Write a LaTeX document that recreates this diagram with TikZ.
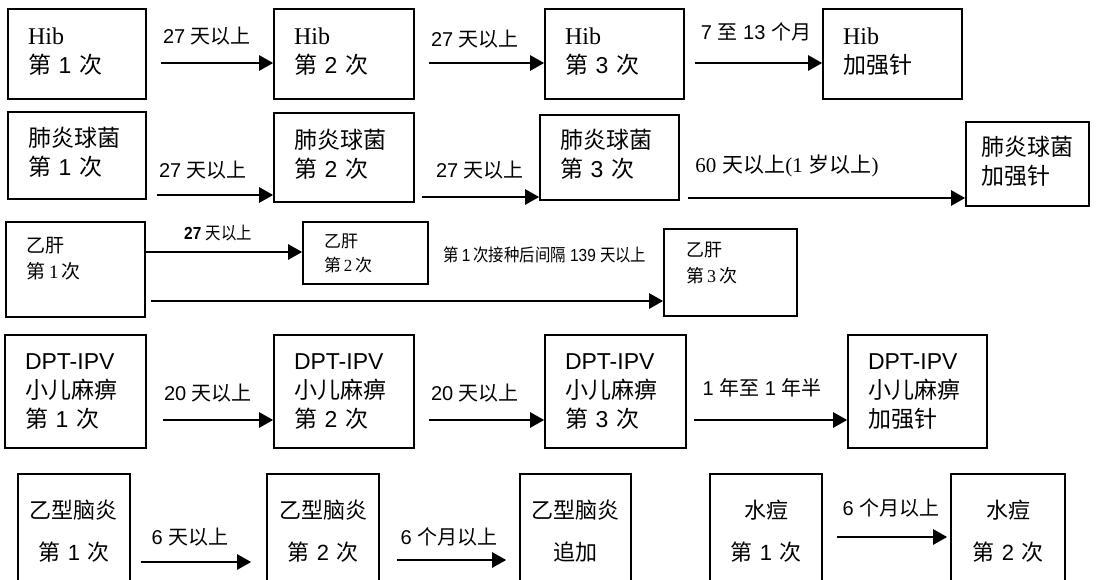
\documentclass[tikz,border=0pt]{standalone}
\usepackage{fontspec}
\setmainfont{Liberation Sans}
\newfontfamily\cjkfont{Noto Sans CJK SC}
\newfontfamily\cjkcond[FakeStretch=0.88]{Noto Sans CJK SC}
\newfontfamily\serifrm{Liberation Serif}
\newfontfamily\sanscond[FakeStretch=0.88]{Liberation Sans}
\newcommand{\zh}[1]{{\cjkfont #1}}
\newcommand{\zc}[1]{{\cjkcond #1}}
\usetikzlibrary{arrows.meta,calc}

\begin{document}
\begin{tikzpicture}[x=1pt, y=-1pt,
    box/.style={rectangle, draw, line width=1.6pt, inner xsep=20pt, align=left, font=\fontsize{23}{29}\selectfont},
    smallbox/.style={rectangle, draw, line width=1.6pt, inner xsep=21pt, align=left, font=\fontsize{19}{26}\selectfont},
    cbox/.style={rectangle, draw, line width=1.6pt, inner xsep=4pt, align=center, minimum height=114pt, font=\fontsize{22}{42}\selectfont},
    lbl/.style={inner sep=0pt, font=\fontsize{20}{22}\selectfont},
    slbl/.style={inner sep=0pt, font=\fontsize{17.5}{20}\selectfont\sanscond},
    arr/.style={line width=2.4pt, -{Triangle[length=14pt,width=15pt]}}
]
\useasboundingbox (0,0) rectangle (1096,579);
\clip (0,0) rectangle (1096,579);

% Hib
\node[box, text width=98pt, minimum height=90pt, text depth=35pt] (hib1) at (77,54) {{\serifrm\fontsize{24}{29}\selectfont Hib}\\\zh{第} 1 \zh{次}};
\node[box, text width=100pt, minimum height=90pt, text depth=35pt] (hib2) at (344,54) {{\serifrm\fontsize{24}{29}\selectfont Hib}\\\zh{第} 2 \zh{次}};
\node[box, text width=99pt, minimum height=90pt, text depth=35pt] (hib3) at (614.5,54) {{\serifrm\fontsize{24}{29}\selectfont Hib}\\\zh{第} 3 \zh{次}};
\node[box, text width=99pt, minimum height=90pt, text depth=35pt] (hib4) at (892.5,54) {{\serifrm\fontsize{24}{29}\selectfont Hib}\\\zh{加强针}};

\node[lbl] (hibl1) at (207,36) {27 \zh{天以上}};
\node[lbl] (hibl2) at (475,39) {27 \zh{天以上}};
\node[lbl] (hibl3) at (756,32) {7 \zh{至} 13 \zh{个月}};

\draw[arr] ($(hib1.east)+(14,9)$) -- ($(hib2.west)+(0,9)$);
\draw[arr] ($(hib2.east)+(14,9)$) -- ($(hib3.west)+(0,9)$);
\draw[arr] ($(hib3.east)+(10,9)$) -- ($(hib4.west)+(0,9)$);

% Pneumocoque
\node[box, text width=98pt, minimum height=87pt, text depth=38pt] (pc1) at (77,155.5) {\zh{肺炎球菌}\\\zh{第} 1 \zh{次}};
\node[box, text width=100pt, minimum height=89pt, text depth=38pt] (pc2) at (344,157.5) {\zh{肺炎球菌}\\\zh{第} 2 \zh{次}};
\node[box, text width=99pt, minimum height=85pt, text depth=38pt] (pc3) at (609.5,157.5) {\zh{肺炎球菌}\\\zh{第} 3 \zh{次}};
\node[box, text width=93pt, inner xsep=15pt, minimum height=84pt, text depth=36pt] (pc4) at (1027.5,164) {\zh{肺炎球菌}\\\zh{加强针}};

\node[lbl] (pcl1) at (203,170) {27 \zh{天以上}};
\node[lbl] (pcl2) at (480,170) {27 \zh{天以上}};
\node[lbl, font=\fontsize{21}{22}\selectfont] (pcl3) at (787,166) {{\serifrm 60} \zh{天以上}{\serifrm (1} \zh{岁以上}{\serifrm )}};

\draw[arr] ($(pc1.east)+(10,39.5)$) -- ($(pc2.west)+(0,37.5)$);
\draw[arr] ($(pc2.east)+(7,39.5)$) -- ($(pc3.west)+(0,39.5)$);
\draw[arr] ($(pc3.east)+(8,40.5)$) -- ($(pc4.west)+(0,34)$);

% Hepatite B
\node[smallbox, text width=97pt, minimum height=95pt, text depth=50pt] (hb1) at (75.5,269.5) {\zh{乙肝}\\\zh{第}\,{\serifrm 1}\,\zh{次}};
\node[smallbox, text width=83pt, minimum height=62pt, font=\fontsize{17}{24}\selectfont] (hb2) at (365.5,253) {\zh{乙肝}\\\zh{第}\,{\serifrm 2}\,\zh{次}};
\node[smallbox, text width=89pt, inner xsep=22pt, minimum height=87pt, text depth=47pt, font=\fontsize{18}{26}\selectfont] (hb3) at (730.5,272.5) {\zh{乙肝}\\\zh{第}\,{\serifrm 3}\,\zh{次}};

\node[slbl] (hbl1) at (218,233) {\textbf{27} \zc{天以上}};
\node[slbl] (hbl2) at (545,255) {\zc{第}\,1\,\zc{次接种后间隔} 139 \zc{天以上}};

\draw[arr] ($(hb1.east)+(0,-17.5)$) -- ($(hb2.west)+(0,-1)$);
\draw[arr] ($(hb1.east)+(5,31.5)$) -- ($(hb3.west)+(0,28.5)$);

% DPT-IPV
\node[box, text width=101pt, minimum height=113pt] (dpt1) at (75.5,391.5) {DPT-IPV\\\zh{小儿麻痹}\\\zh{第} 1 \zh{次}};
\node[box, text width=100pt, minimum height=113pt] (dpt2) at (344,391.5) {DPT-IPV\\\zh{小儿麻痹}\\\zh{第} 2 \zh{次}};
\node[box, text width=101pt, minimum height=113pt] (dpt3) at (615.5,391.5) {DPT-IPV\\\zh{小儿麻痹}\\\zh{第} 3 \zh{次}};
\node[box, text width=99pt, minimum height=113pt] (dpt4) at (917.5,391.5) {DPT-IPV\\\zh{小儿麻痹}\\\zh{加强针}};

\node[lbl] (dptl1) at (208,393) {20 \zh{天以上}};
\node[lbl] (dptl2) at (475,393) {20 \zh{天以上}};
\node[lbl] (dptl3) at (762,388) {1 \zh{年至} 1 \zh{年半}};

\draw[arr] ($(dpt1.east)+(16,28.5)$) -- ($(dpt2.west)+(0,28.5)$);
\draw[arr] ($(dpt2.east)+(14,28.5)$) -- ($(dpt3.west)+(0,28.5)$);
\draw[arr] ($(dpt3.east)+(7,28.5)$) -- ($(dpt4.west)+(0,28.5)$);

% Encephalite japonaise, varicelle
\node[cbox, text width=104pt] (je1) at (74,531) {\zh{乙型脑炎}\\\zh{第} 1 \zh{次}};
\node[cbox, text width=104pt] (je2) at (323,531) {\zh{乙型脑炎}\\\zh{第} 2 \zh{次}};
\node[cbox, text width=103pt] (je3) at (575.5,531) {\zh{乙型脑炎}\\\zh{追加}};
\node[cbox, text width=104pt] (vz1) at (766,531) {\zh{水痘}\\\zh{第} 1 \zh{次}};
\node[cbox, text width=106pt] (vz2) at (1008,531) {\zh{水痘}\\\zh{第} 2 \zh{次}};

\node[lbl] (jel1) at (190,537) {6 \zh{天以上}};
\node[lbl] (jel2) at (449,537) {6 \zh{个月以上}};
\node[lbl] (vzl1) at (891,508) {6 \zh{个月以上}};

\draw[arr] ($(je1.east)+(10,31)$) -- ($(je2.west)+(-15,31)$);
\draw[arr] ($(je2.east)+(17,29)$) -- ($(je3.west)+(-13,29)$);
\draw[arr] ($(vz1.east)+(14,6)$) -- ($(vz2.west)+(-3,6)$);

\end{tikzpicture}
\end{document}
